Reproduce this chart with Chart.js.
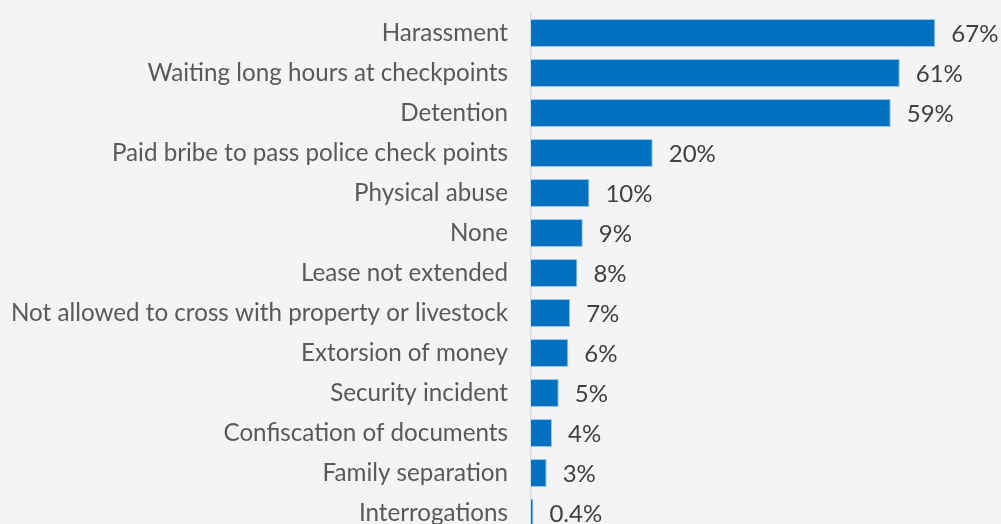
<!DOCTYPE html>
<html>
<head>
<meta charset="utf-8">
<script src="https://cdn.jsdelivr.net/npm/chart.js@4/dist/chart.umd.min.js"></script>
<style>
  html, body { margin: 0; padding: 0; background: #f4f4f4; overflow: hidden; }
  #wrap { position: relative; width: 1001px; height: 540px; }
</style>
</head>
<body>
<div id="wrap"><canvas id="c"></canvas></div>
<script>
const categories = [
  'Harassment',
  'Waiting long hours at checkpoints',
  'Detention',
  'Paid bribe to pass police check points',
  'Physical abuse',
  'None',
  'Lease not extended',
  'Not allowed to cross with property or livestock',
  'Extorsion of money',
  'Security incident',
  'Confiscation of documents',
  'Family separation',
  'Interrogations'
];
const values = [67.1, 61.2, 59.7, 20.2, 9.7, 8.6, 7.7, 6.5, 6.2, 4.6, 3.5, 2.6, 0.4];
const valueLabels = ['67%', '61%', '59%', '20%', '10%', '9%', '8%', '7%', '6%', '5%', '4%', '3%', '0.4%'];

const FONT = 'Lato, "Open Sans", sans-serif';

const valueLabelPlugin = {
  id: 'valueLabels',
  afterDatasetsDraw(chart) {
    const ctx = chart.ctx;
    const meta = chart.getDatasetMeta(0);
    ctx.save();
    ctx.font = '24px ' + FONT;
    ctx.fillStyle = '#404040';
    ctx.textAlign = 'left';
    ctx.textBaseline = 'middle';
    meta.data.forEach((bar, i) => {
      ctx.fillText(valueLabels[i], bar.x + 16, bar.y + 1);
    });
    ctx.restore();
  }
};

new Chart(document.getElementById('c'), {
  type: 'bar',
  data: {
    labels: categories,
    datasets: [{
      data: values,
      backgroundColor: '#0070C0',
      borderColor: '#9DC3E6',
      borderWidth: 1,
      categoryPercentage: 0.7,
      barPercentage: 1.0
    }]
  },
  options: {
    indexAxis: 'y',
    responsive: true,
    maintainAspectRatio: false,
    animation: false,
    layout: { padding: { top: 13, bottom: 7, left: 0, right: 0 } },
    plugins: {
      legend: { display: false },
      tooltip: { enabled: false }
    },
    scales: {
      x: {
        display: false,
        min: 0,
        max: 78
      },
      y: {
        afterFit(scale) {
          scale.width = 531;
          scale.paddingTop = 0;
          scale.paddingBottom = 0;
        },
        grid: { display: false, drawTicks: false },
        border: { display: true, color: '#d9d9d9', width: 1.5 },
        ticks: {
          color: '#595959',
          padding: 23,
          font: { family: FONT, size: 24.2 }
        }
      }
    }
  },
  plugins: [valueLabelPlugin]
});
</script>
</body>
</html>
